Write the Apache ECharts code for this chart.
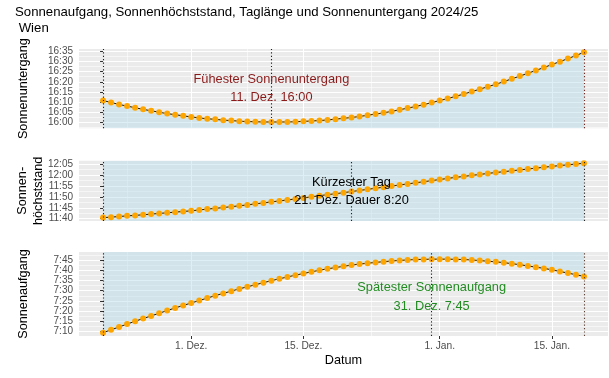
<!DOCTYPE html>
<html>
<head>
<meta charset="utf-8">
<script src="https://cdn.jsdelivr.net/npm/echarts@6/dist/echarts.min.js"></script>
<style>
  html, body { margin: 0; padding: 0; background: #fff; }
  #main { width: 609px; height: 378px; }
</style>
</head>
<body>
<div id="main"></div>
<script>
// Tage 20. Nov. 2024 bis 19. Jan. 2025
const dates = [
  '2024-11-20', '2024-11-21', '2024-11-22', '2024-11-23', '2024-11-24', '2024-11-25', '2024-11-26', '2024-11-27',
  '2024-11-28', '2024-11-29', '2024-11-30',
  '2024-12-01', '2024-12-02', '2024-12-03', '2024-12-04', '2024-12-05', '2024-12-06', '2024-12-07', '2024-12-08',
  '2024-12-09', '2024-12-10', '2024-12-11', '2024-12-12', '2024-12-13', '2024-12-14', '2024-12-15', '2024-12-16',
  '2024-12-17', '2024-12-18', '2024-12-19', '2024-12-20', '2024-12-21', '2024-12-22', '2024-12-23', '2024-12-24',
  '2024-12-25', '2024-12-26', '2024-12-27', '2024-12-28', '2024-12-29', '2024-12-30', '2024-12-31',
  '2025-01-01', '2025-01-02', '2025-01-03', '2025-01-04', '2025-01-05', '2025-01-06', '2025-01-07', '2025-01-08',
  '2025-01-09', '2025-01-10', '2025-01-11', '2025-01-12', '2025-01-13', '2025-01-14', '2025-01-15', '2025-01-16',
  '2025-01-17', '2025-01-18', '2025-01-19',
];
// Minuten nach Mitternacht (MEZ)
const sunset = [
  970.8, 969.9, 968.9, 968.1, 967.3, 966.5, 965.8, 965.1, 964.4, 963.9,
  963.3, 962.8, 962.3, 961.9, 961.6, 961.2, 961.0, 960.7, 960.5, 960.4,
  960.3, 960.3, 960.3, 960.3, 960.4, 960.6, 960.8, 961.0, 961.3, 961.7,
  962.1, 962.5, 963.0, 963.6, 964.2, 964.8, 965.5, 966.3, 967.1, 967.9,
  968.8, 969.8, 970.8, 971.8, 972.9, 974.0, 975.2, 976.4, 977.6, 978.8,
  980.1, 981.5, 982.8, 984.2, 985.6, 987.0, 988.5, 989.9, 991.4, 992.9,
  994.5,
];
const noon = [
  700.5, 700.7, 701.0, 701.3, 701.5, 701.8, 702.1, 702.4, 702.7, 703.0,
  703.3, 703.6, 704.0, 704.4, 704.7, 705.1, 705.5, 705.9, 706.3, 706.8,
  707.2, 707.7, 708.1, 708.6, 709.0, 709.5, 710.0, 710.5, 711.0, 711.4,
  711.9, 712.4, 712.9, 713.4, 713.9, 714.4, 714.9, 715.4, 715.9, 716.4,
  716.9, 717.4, 717.9, 718.4, 718.9, 719.3, 719.8, 720.2, 720.7, 721.1,
  721.5, 721.9, 722.3, 722.7, 723.1, 723.5, 723.9, 724.3, 724.6, 725.0,
  725.3,
];
const sunrise = [
  429.5, 430.9, 432.3, 433.7, 435.1, 436.4, 437.7, 439.0, 440.3, 441.6,
  442.8, 444.0, 445.2, 446.4, 447.6, 448.7, 449.8, 450.9, 451.9, 452.9,
  453.9, 454.9, 455.8, 456.7, 457.6, 458.4, 459.2, 460.0, 460.7, 461.3,
  461.9, 462.5, 463.0, 463.4, 463.8, 464.2, 464.5, 464.8, 465.0, 465.2,
  465.3, 465.4, 465.4, 465.4, 465.3, 465.2, 465.0, 464.7, 464.4, 464.1,
  463.7, 463.2, 462.7, 462.1, 461.5, 460.9, 460.2, 459.4, 458.6, 457.8,
  457.0,
];

const xTickDates = ['2024-12-01', '2024-12-15', '2025-01-01', '2025-01-15'];
const xTickLabels = ['1. Dez.', '15. Dez.', '1. Jan.', '15. Jan.'];
const xMinorDates = ['2024-11-23', '2024-12-08', '2024-12-23T12:00:00Z', '2025-01-08'];

const sunsetTicks = ['16:00', '16:05', '16:10', '16:15', '16:20', '16:25', '16:30', '16:35'];
const noonTicks = ['11:40', '11:45', '11:50', '11:55', '12:00', '12:05'];
const sunriseTicks = ['7:10', '7:15', '7:20', '7:25', '7:30', '7:35', '7:40', '7:45'];

const panelNames = ['Sonnenuntergang', 'Sonnen-\nhöchststand', 'Sonnenaufgang'];
const eventDates = ['2024-12-11', '2024-12-21', '2024-12-31'];
const notes = [
  'Fühester Sonnenuntergang\n11. Dez. 16:00',
  'Kürzester Tag\n21. Dez. Dauer 8:20',
  'Spätester Sonnenaufgang\n31. Dez. 7:45',
];

const FONT = '"Liberation Sans", Arial, Helvetica, sans-serif';
const t0 = Date.parse('2024-11-20T00:00:00Z');
const dayNo = d => (Date.parse(d.includes('T') ? d : d + 'T00:00:00Z') - t0) / 864e5;
const toMin = s => {
  const [h, m] = s.split(':');
  return +h * 60 + +m;
};
const fmtTime = v => Math.floor(v / 60) + ':' + String(Math.round(v % 60)).padStart(2, '0');

const xs = dates.map(dayNo);
const xTicks = xTickDates.map(dayNo);
const xMinor = xMinorDates.map(dayNo);
const last = xs[xs.length - 1];

// Layout der drei Panels
const panels = [
  {
    values: sunset, ticks: sunsetTicks, top: 49, height: 79.3, min: 957.2, max: 996.1,
    nameGap: 48, lineHeight: 15, noteY: 976.7, noteColor: '#8B1A1A', lastColor: '#6E2A22',
  },
  {
    values: noon, ticks: noonTicks, top: 160.7, height: 60.3, min: 698.95, max: 726.5,
    nameGap: 33, lineHeight: 15.4, noteY: 712.4, noteColor: '#000', lastColor: '#222',
  },
  {
    values: sunrise, ticks: sunriseTicks, top: 252, height: 84, min: 427.9, max: 468.9,
    nameGap: 48, lineHeight: 15, noteY: 447.1, noteColor: '#228B22', lastColor: '#5A4035',
  },
];

// Taglänge als Fläche zwischen Aufgang und Untergang, auf das Panel beschnitten
function renderDayBand(params, api) {
  if (params.dataIndex !== 0) return null;
  const upper = [];
  const lower = [];
  for (let k = 0; k < xs.length; k++) {
    upper.push(api.coord([xs[k], sunset[k]]));
    lower.push(api.coord([xs[k], sunrise[k]]));
  }
  const cs = params.coordSys;
  return {
    type: 'polygon',
    shape: { points: upper.concat(lower.reverse()) },
    style: { fill: 'rgba(173,216,230,0.4)' },
    clipPath: { type: 'rect', shape: { x: cs.x, y: cs.y, width: cs.width, height: cs.height } },
  };
}

const grid = [];
const xAxis = [];
const yAxis = [];
const series = [];

panels.forEach((p, i) => {
  const major = p.ticks.map(toMin);
  const minor = [];
  major.forEach(v => {
    if (!minor.includes(v - 2.5)) minor.push(v - 2.5);
    minor.push(v + 2.5);
  });
  const isBottom = i === panels.length - 1;

  grid.push({
    left: 79, right: 1, top: p.top, height: p.height,
    show: true, backgroundColor: '#EBEBEB', borderWidth: 0,
  });

  xAxis.push({
    type: 'value', gridIndex: i, min: -3, max: 63,
    axisLine: { show: false },
    axisTick: { show: isBottom, customValues: xTicks, length: 3, lineStyle: { color: '#333' } },
    axisLabel: {
      show: isBottom, customValues: xTicks, margin: 5,
      color: '#4D4D4D', fontSize: 10.2, fontFamily: FONT,
      formatter: v => xTickLabels[xTicks.findIndex(t => Math.abs(t - v) < 0.01)],
    },
    splitLine: { show: true, lineStyle: { color: '#fff', width: 1.1 } },
    name: isBottom ? 'Datum' : '',
    nameLocation: 'middle', nameGap: 17.6, nameMoveOverlap: false,
    nameTextStyle: { color: '#000', fontSize: 12.7, fontFamily: FONT },
  });
  xAxis.push({
    type: 'value', gridIndex: i, min: -3, max: 63,
    axisLine: { show: false },
    axisTick: { show: false, customValues: xMinor },
    axisLabel: { show: false, customValues: xMinor },
    splitLine: { show: true, lineStyle: { color: '#fff', width: 0.55 } },
  });

  yAxis.push({
    type: 'value', gridIndex: i, min: p.min, max: p.max,
    axisLine: { show: false },
    axisTick: { show: true, customValues: major, length: 3, lineStyle: { color: '#333' } },
    axisLabel: {
      customValues: major, margin: 6,
      color: '#4D4D4D', fontSize: 10, fontFamily: FONT,
      formatter: v => fmtTime(v),
    },
    splitLine: { show: true, lineStyle: { color: '#fff', width: 1.1 } },
    name: panelNames[i],
    nameLocation: 'middle', nameRotate: 90, nameGap: p.nameGap, nameMoveOverlap: false,
    nameTextStyle: { color: '#000', fontSize: 12.7, lineHeight: p.lineHeight, fontFamily: FONT },
  });
  yAxis.push({
    type: 'value', gridIndex: i, min: p.min, max: p.max, position: 'left',
    axisLine: { show: false },
    axisTick: { show: false, customValues: minor },
    axisLabel: { show: false, customValues: minor },
    splitLine: { show: true, lineStyle: { color: '#fff', width: 0.55 } },
  });

  series.push({
    type: 'custom', xAxisIndex: 2 * i, yAxisIndex: 2 * i,
    silent: true, clip: true,
    renderItem: renderDayBand,
    encode: { x: 0, y: 1 },
    data: xs.map((x, k) => [x, p.values[k]]),
    markLine: {
      silent: true, symbol: ['none', 'none'], label: { show: false },
      lineStyle: { type: [1.2, 2.2], width: 1.1, color: '#222' },
      data: [
        { xAxis: xs[0] },
        { xAxis: dayNo(eventDates[i]) },
        { xAxis: last, lineStyle: { color: p.lastColor } },
      ],
    },
  });

  // Messpunkte
  series.push({
    type: 'line', xAxisIndex: 2 * i, yAxisIndex: 2 * i,
    symbol: 'circle', symbolSize: 6, showAllSymbol: true,
    itemStyle: { color: '#FFA500' },
    lineStyle: { color: '#000', width: 0.9 },
    data: xs.map((x, k) => [x, p.values[k]]),
    markPoint: {
      symbol: 'circle', symbolSize: 1, silent: true,
      itemStyle: { color: 'rgba(0,0,0,0)' },
      label: {
        show: true, position: 'inside', align: 'center',
        color: p.noteColor, fontSize: 12.8, lineHeight: 18.7, fontFamily: FONT,
        formatter: () => notes[i],
      },
      data: [{ coord: [dayNo(eventDates[i]), p.noteY] }],
    },
  });
});

const chart = echarts.init(document.getElementById('main'));
chart.setOption({
  animation: false,
  backgroundColor: '#fff',
  title: {
    text: 'Sonnenaufgang, Sonnenhöchststand, Taglänge und Sonnenuntergang 2024/25\n Wien',
    left: 15, top: 4.7, padding: 0,
    textStyle: { color: '#000', fontSize: 13.2, lineHeight: 16, fontWeight: 'normal', fontFamily: FONT },
  },
  grid,
  xAxis,
  yAxis,
  series,
});
</script>
</body>
</html>
